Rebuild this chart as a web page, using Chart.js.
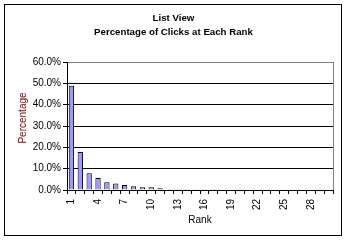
<!DOCTYPE html>
<html>
<head>
<meta charset="utf-8">
<script src="https://cdn.jsdelivr.net/npm/chart.js@4/dist/chart.umd.min.js"></script>
<style>
html,body{margin:0;padding:0;background:#fff;}
#wrap{width:347px;height:242px;position:relative;}
</style>
</head>
<body>
<div id="wrap"><canvas id="c" width="347" height="242"></canvas></div>
<script>
const titleLines = ['List View', 'Percentage of Clicks at Each Rank'];
const yTitle = 'Percentage';
const xTitle = 'Rank';
const ranks = ['1','2','3','4','5','6','7','8','9','10','11','12','13','14','15','16','17','18','19','20','21','22','23','24','25','26','27','28','29','30'];
const clickPct = [48.9, 17.8, 7.8, 5.6, 3.6, 3.1, 2.3, 1.8, 1.3, 1.3, 0.8, 0.35, 0.3, 0.3, 0.3, 0.3, 0.3, 0, 0, 0, 0, 0, 0, 0, 0, 0, 0, 0, 0, 0];
const yTickLabels = ['0.0%', '10.0%', '20.0%', '30.0%', '40.0%', '50.0%', '60.0%'];

const FONT = '"Liberation Sans", Arial, sans-serif';

const decor = {
  id: 'decor',
  afterDraw(chart) {
    const ctx = chart.ctx;
    const a = chart.chartArea;
    ctx.save();
    ctx.strokeStyle = '#808080';
    ctx.lineWidth = 1;
    ctx.beginPath();
    ctx.moveTo(Math.round(a.right) + 0.5, Math.round(a.top));
    ctx.lineTo(Math.round(a.right) + 0.5, Math.round(a.bottom));
    ctx.stroke();
    ctx.strokeStyle = '#000';
    ctx.strokeRect(4.5, 4.5, 337, 231);
    ctx.fillStyle = '#000';
    ctx.font = 'bold 9.7px ' + FONT;
    ctx.textAlign = 'center';
    ctx.textBaseline = 'alphabetic';
    ctx.fillText(titleLines[0], 173.5, 21);
    ctx.fillText(titleLines[1], 173.5, 34.5);
    ctx.translate(25.5, 118);
    ctx.rotate(-Math.PI / 2);
    ctx.fillStyle = '#800000';
    ctx.font = '10px ' + FONT;
    ctx.textAlign = 'center';
    ctx.textBaseline = 'alphabetic';
    ctx.fillText(yTitle, 0, 0);
    ctx.restore();
  }
};

new Chart(document.getElementById('c'), {
  type: 'bar',
  data: {
    labels: ranks,
    datasets: [{
      data: clickPct,
      backgroundColor: '#9999FF',
      borderColor: '#000',
      borderWidth: 1,
      borderSkipped: 'start',
      barPercentage: 0.6,
      categoryPercentage: 1.0
    }]
  },
  options: {
    responsive: false,
    animation: false,
    devicePixelRatio: 1,
    layout: { padding: { left: 0, right: 14, top: 62, bottom: 0 } },
    plugins: { legend: { display: false }, title: { display: false }, tooltip: { enabled: false } },
    scales: {
      x: {
        offset: true,
        grid: { display: true, drawOnChartArea: false, drawTicks: true, tickLength: 4, tickColor: '#000', offset: true },
        border: { display: true, color: '#000', width: 1 },
        ticks: {
          autoSkip: false, maxRotation: 90, minRotation: 90, padding: 5,
          color: '#000', font: { family: FONT, size: 10 },
          callback: (v, i) => (i % 3 === 0 ? ranks[i] : '')
        },
        title: { display: true, text: xTitle, color: '#000', font: { family: FONT, size: 10 }, padding: { top: 16, bottom: 16 } },
        afterFit(s) { s.height = 52; }
      },
      y: {
        min: 0, max: 60,
        ticks: {
          stepSize: 10, padding: 2, color: '#000', font: { family: FONT, size: 10 },
          callback: (v, i) => yTickLabels[i]
        },
        grid: {
          drawTicks: true, tickLength: 4, tickColor: '#000', lineWidth: 1,
          color: (c) => (c.index === 6 ? '#808080' : '#000')
        },
        border: { display: true, color: '#000', width: 1 },
        afterFit(s) { s.width = 67; }
      }
    }
  },
  plugins: [decor]
});
</script>
</body>
</html>
